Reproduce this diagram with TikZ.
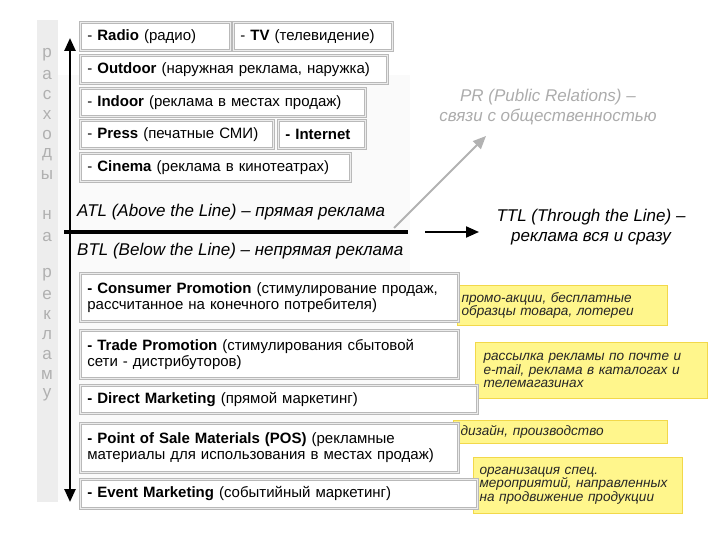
\documentclass[tikz,border=0pt]{standalone}
\usepackage{fontspec}
\setmainfont{Liberation Sans}
\usetikzlibrary{arrows.meta}
\definecolor{ylwfill}{HTML}{FFF68C}
\definecolor{ylwdraw}{HTML}{F2D84A}
\begin{document}
\begin{tikzpicture}[x=1pt,y=-1pt,
  box/.style={draw=gray!55, double=gray!15, double distance=1.3pt, line width=0.8pt,
    fill=white, anchor=north west, inner xsep=7pt, inner ysep=0pt, align=left,
    font=\fontsize{15}{16}\selectfont},
  note/.style={draw=ylwdraw, line width=1.2pt, fill=ylwfill, anchor=north west,
    inner xsep=4pt, inner ysep=0pt, align=left, text=black!85,
    font=\fontsize{13.6}{13.5}\itshape},
  letter/.style={text=gray!62, font=\fontsize{17}{17}\selectfont, inner sep=0pt},
  bigital/.style={font=\fontsize{17}{20}\itshape, inner sep=0pt, align=center},
  tip/.style={-{Triangle[length=13pt,width=11pt]}}
]
\useasboundingbox (0,0) rectangle (720,540);
% backgrounds
\fill[gray!4] (58,75) rectangle (410,500);
\fill[gray!14] (37,20) rectangle (58,502);
% yellow notes
\node[note, minimum width=210pt, minimum height=40pt, text width=202pt] (n1) at (457,285)
  {промо-акции, бесплатные\\образцы товара, лотереи};
\node[note, minimum width=232pt, minimum height=56pt, text width=216pt, inner xsep=8pt] (n2) at (475,342)
  {рассылка рекламы по почте и\\e-mail, реклама в каталогах и\\телемагазинах};
\node[note, minimum width=214pt, minimum height=23pt, text width=200pt, inner xsep=7pt] (n3) at (453,420)
  {дизайн, производство};
\node[note, minimum width=209pt, minimum height=56pt, text width=197pt, inner xsep=6pt] (n4) at (473,457)
  {организация спец.\\мероприятий, направленных\\на продвижение продукции};
% top boxes
\node[box, minimum width=150pt, minimum height=28pt, text width=136pt] (radio) at (80,22) {- \textbf{Radio} (радио)};
\node[box, minimum width=159pt, minimum height=28pt, text width=145pt] (tv) at (233,22) {- \textbf{TV} (телевидение)};
\node[box, minimum width=307pt, minimum height=28pt, text width=293pt] (outdoor) at (80,55) {- \textbf{Outdoor} (наружная реклама, наружка)};
\node[box, minimum width=285pt, minimum height=28pt, text width=271pt] (indoor) at (80,88) {- \textbf{Indoor} (реклама в местах продаж)};
\node[box, minimum width=193pt, minimum height=28pt, text width=179pt] (press) at (80,120) {- \textbf{Press} (печатные СМИ)};
\node[box, minimum width=87pt, minimum height=28pt, text width=73pt] (internet) at (278,120) {\textbf{- Internet}};
\node[box, minimum width=270pt, minimum height=28pt, text width=256pt] (cinema) at (80,153) {- \textbf{Cinema} (реклама в кинотеатрах)};
% bottom boxes
\node[box, minimum width=378pt, minimum height=48pt, text width=364pt] (consumer) at (80,273)
  {\textbf{- Consumer Promotion} (стимулирование продаж,\\рассчитанное на конечного потребителя)};
\node[box, minimum width=378pt, minimum height=48pt, text width=364pt] (trade) at (80,330)
  {\textbf{- Trade Promotion} (стимулирования сбытовой\\сети - дистрибуторов)};
\node[box, minimum width=397pt, minimum height=28pt, text width=383pt] (direct) at (80,385)
  {\textbf{- Direct Marketing} (прямой маркетинг)};
\node[box, minimum width=378pt, minimum height=49pt, text width=364pt] (pos) at (80,423)
  {\textbf{- Point of Sale Materials (POS)} (рекламные\\материалы для использования в местах продаж)};
\node[box, minimum width=397pt, minimum height=29pt, text width=383pt] (event) at (80,479)
  {\textbf{- Event Marketing} (событийный маркетинг)};
% vertical letters
\foreach \ch/\yy in {р/55,а/75,с/95,х/115,о/135,д/155,ы/175,н/215,а/237,р/275,е/295,к/315,л/335,а/355,м/375,у/395}
  \node[letter] at (47,\yy) {\ch};
% line labels
\node[bigital, anchor=west] (atl) at (77,212) {ATL (Above the Line) – прямая реклама};
\node[bigital, anchor=west] (btl) at (77,251) {BTL (Below the Line) – непрямая реклама};
\node[bigital, text=gray!65] (pr) at (548,107) {PR (Public Relations) –\\связи с общественностью};
\node[bigital] (ttl) at (591,227) {TTL (Through the Line) –\\реклама вся и сразу};
% arrows and line
\coordinate (vtop) at (70,38);
\coordinate (vbot) at (70,502);
\coordinate (lineL) at (64,232);
\coordinate (lineR) at (408,232);
\coordinate (arrS) at (425,232);
\coordinate (arrE) at (479,232);
\coordinate (prS) at (394,228);
\coordinate (prE) at (486,136);
\draw[line width=2.5pt, {Triangle[length=13pt,width=11pt]}-{Triangle[length=13pt,width=11pt]}] (vtop) -- (vbot);
\draw[gray!60, line width=2pt, tip] (prS) -- (prE);
\draw[line width=4pt] (lineL) -- (lineR);
\draw[line width=2pt, tip] (arrS) -- (arrE);
\end{tikzpicture}
\end{document}
